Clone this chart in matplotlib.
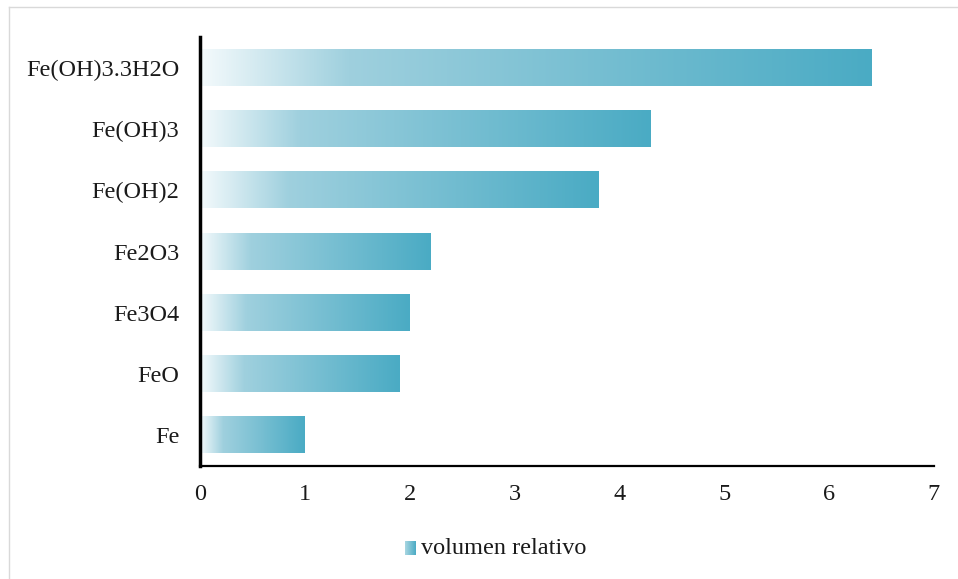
import numpy as np
import matplotlib.pyplot as plt
from matplotlib.colors import LinearSegmentedColormap
from matplotlib.lines import Line2D

# relative volume of iron and its corrosion products
compuestos = ['Fe', 'FeO', 'Fe3O4', 'Fe2O3', 'Fe(OH)2', 'Fe(OH)3', 'Fe(OH)3.3H2O']
volumen = [1.0, 1.9, 2.0, 2.2, 3.8, 4.3, 6.4]
xticks = [0, 1, 2, 3, 4, 5, 6, 7]

plt.rcParams['font.family'] = ['Liberation Serif', 'DejaVu Serif']

# white -> light teal quickly, then on to the full teal at the bar end
cmap = LinearSegmentedColormap.from_list(
    'teal', [(0.0, '#f4fafc'), (0.22, '#9fd0de'), (1.0, '#4aabc4')])
grad = np.linspace(0, 1, 256).reshape(1, -1)

fig = plt.figure(figsize=(9.58, 5.79), dpi=100)
ax = fig.add_axes([200 / 958, 1 - 466 / 579, 734 / 958, 429 / 579])

bar_h = 0.59
for i, v in enumerate(volumen):
    ax.imshow(grad, cmap=cmap, aspect='auto', interpolation='bilinear',
              extent=[0, v, i - bar_h / 2, i + bar_h / 2], zorder=2)

ax.set_xlim(0, 7)
ax.set_ylim(-0.5, len(compuestos) - 0.5)
ax.set_yticks(range(len(compuestos)))
ax.set_yticklabels(compuestos)
ax.set_xticks(xticks)
ax.set_xticklabels([str(t) for t in xticks])
ax.tick_params(axis='y', length=0, pad=15, labelsize=17.5, colors='#1a1a1a')
ax.tick_params(axis='x', length=0, pad=13, labelsize=17.5, colors='#1a1a1a')
for s in ['top', 'right']:
    ax.spines[s].set_visible(False)
ax.spines['left'].set_linewidth(2.5)
ax.spines['bottom'].set_linewidth(1.6)
ax.spines['left'].set_color('black')
ax.spines['bottom'].set_color('black')

# legend: little gradient square and its label
lax = fig.add_axes([405 / 958, 1 - 555 / 579, 11 / 958, 14 / 579])
lax.imshow(grad, cmap=LinearSegmentedColormap.from_list(
    'leg', ['#a9d6e2', '#4aabc4']), aspect='auto')
lax.axis('off')
fig.text(421 / 958, 1 - 548 / 579, 'volumen relativo', fontsize=17.5,
         color='#1a1a1a', va='center', ha='left')

# light frame around the chart area
fig.add_artist(Line2D([9 / 958, 1], [1 - 7 / 579, 1 - 7 / 579],
                      transform=fig.transFigure, color='#d9d9d9', lw=1))
fig.add_artist(Line2D([9 / 958, 9 / 958], [0, 1 - 7 / 579],
                      transform=fig.transFigure, color='#d9d9d9', lw=1))

fig.savefig('out.png', dpi=100)
